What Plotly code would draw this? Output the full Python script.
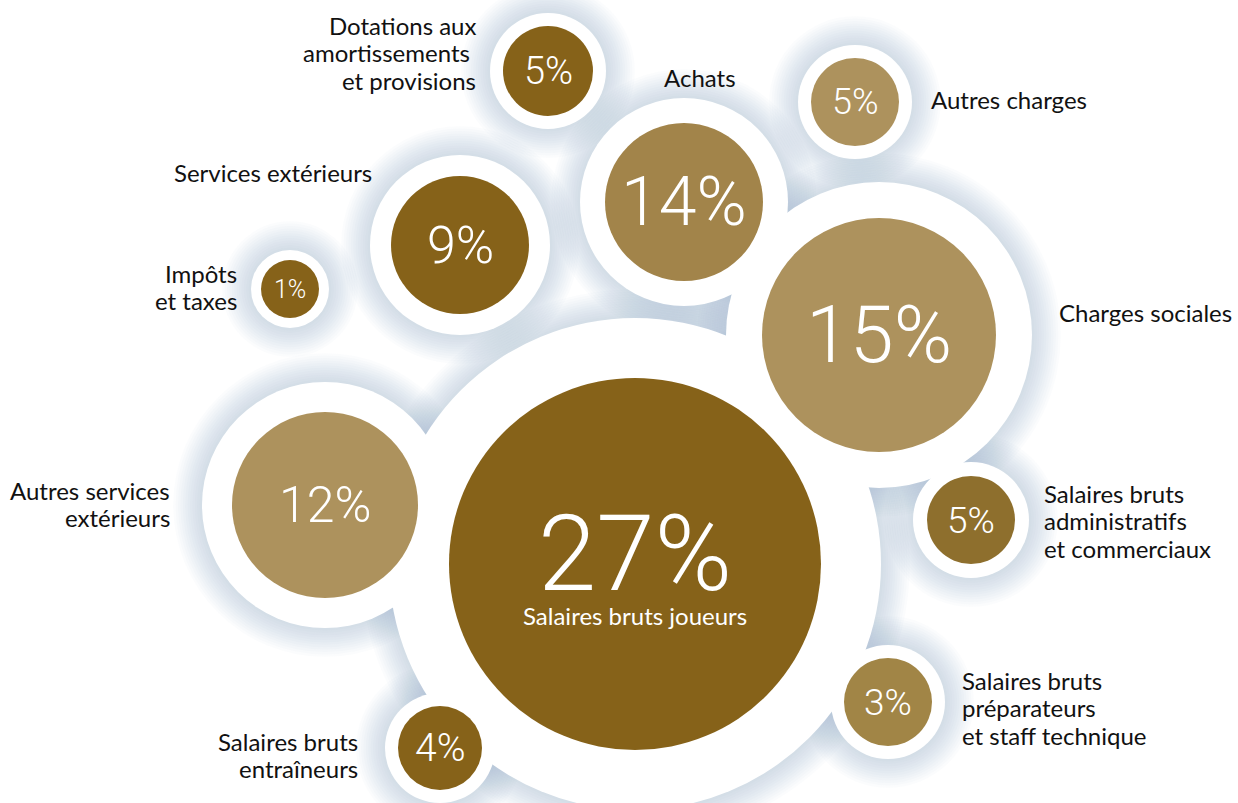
import plotly.graph_objects as go

# ---- data ----
categories = [
    "Salaires bruts joueurs", "Charges sociales", "Achats", "Autres services extérieurs",
    "Services extérieurs", "Dotations aux amortissements et provisions", "Autres charges",
    "Salaires bruts administratifs et commerciaux", "Salaires bruts entraîneurs",
    "Salaires bruts préparateurs et staff technique", "Impôts et taxes",
]
values = [27, 15, 14, 12, 9, 5, 5, 5, 4, 3, 1]

# label lines as printed next to each bubble
label_lines = [
    None, ["Charges sociales"], ["Achats"], ["Autres services", "extérieurs"],
    ["Services extérieurs"], ["Dotations aux", "amortissements ", "et provisions"], ["Autres charges"],
    ["Salaires bruts", "administratifs", "et commerciaux"], ["Salaires bruts", "entraîneurs"],
    ["Salaires bruts", "préparateurs", "et staff technique"], ["Impôts", "et taxes"],
]

# ---- layout (pixel space) ----
cx = [635, 879, 684, 325, 460, 548, 855, 971, 440, 888, 290]
cy = [564, 335, 202, 505, 245, 71, 102, 520, 748, 702, 289]
r_in = [186, 117, 79, 93, 69, 45, 44, 44, 42, 44, 29]
r_halo = [246, 153, 104, 123, 90, 58, 57, 58, 55, 57, 39]
colors = ["#866219", "#AD925D", "#A2844A", "#AD925D", "#866219", "#866219",
          "#AD925D", "#8E6F2D", "#866219", "#A18546", "#866219"]
pct_size = [105, 79, 68, 50, 52, 38, 36, 37, 39, 37, 25]

label_x = [None, 1057, 700, 172, 374, 478, 929, 1042, 360, 960, 239]
label_y0 = [None, 312, 77, 490, 172, 25, 99, 493, 741, 680, 273]
label_anchor = [None, "left", "center", "right", "right", "right", "left", "left", "right", "left", "right"]
line_gap = 27.5

W, H = 1238, 803
fig = go.Figure()

# soft shadows (stacked translucent rings)
steps = 12
for k in range(steps, 0, -1):
    fig.add_trace(go.Scatter(
        x=cx, y=cy, mode="markers", hoverinfo="skip", showlegend=False,
        marker=dict(size=[2 * (r + 2.4 * k) for r in r_halo], color="rgb(150,172,195)",
                    opacity=0.038, line=dict(width=0)),
    ))

# white halos
fig.add_trace(go.Scatter(
    x=cx, y=cy, mode="markers", hoverinfo="skip", showlegend=False,
    marker=dict(size=[2 * r for r in r_halo], color="white", opacity=1, line=dict(width=0)),
))

# coloured bubbles
fig.add_trace(go.Scatter(
    x=cx, y=cy, mode="markers", showlegend=False,
    text=categories, customdata=values,
    hovertemplate="%{text}: %{customdata}%<extra></extra>",
    marker=dict(size=[2 * r for r in r_in], color=colors, opacity=1, line=dict(width=0)),
))

pct_font = "Roboto"
lab_font = dict(family="Lato", size=24, color="#111111")
annotations = []
for i, v in enumerate(values):
    if i == 0:
        annotations.append(dict(x=cx[i], y=cy[i] - 10, text=f"{v}%", showarrow=False,
                                xanchor="center", yanchor="middle",
                                font=dict(family=pct_font, size=pct_size[i], color="white", weight=300)))
        annotations.append(dict(x=cx[i], y=cy[i] + 51, text=categories[i], showarrow=False,
                                xanchor="center", yanchor="middle",
                                font=dict(family="Lato", size=24, color="white")))
    else:
        annotations.append(dict(x=cx[i], y=cy[i], text=f"{v}%", showarrow=False,
                                xanchor="center", yanchor="middle",
                                font=dict(family=pct_font, size=pct_size[i], color="white", weight=300)))
        for j, line in enumerate(label_lines[i]):
            annotations.append(dict(x=label_x[i], y=label_y0[i] + j * line_gap, text=line,
                                    showarrow=False, xanchor=label_anchor[i], yanchor="middle",
                                    font=lab_font))

fig.update_layout(
    width=W, height=H, margin=dict(l=0, r=0, t=0, b=0),
    paper_bgcolor="white", plot_bgcolor="white",
    xaxis=dict(range=[0, W], visible=False, fixedrange=True),
    yaxis=dict(range=[H, 0], visible=False, fixedrange=True),
    annotations=annotations,
)

fig.write_html("out.html", config={"displayModeBar": False},
               post_script="document.body.style.margin='0';document.body.style.overflow='hidden';")
